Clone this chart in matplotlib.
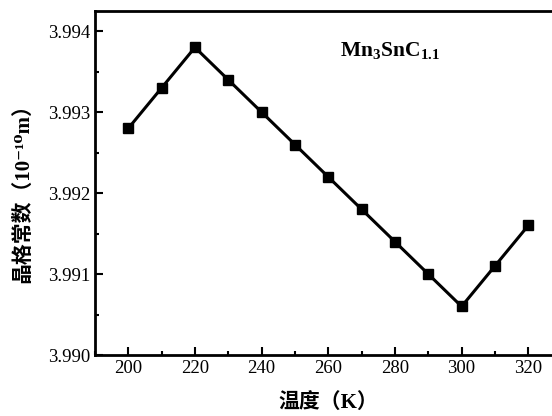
import matplotlib
matplotlib.use("Agg")
import matplotlib.pyplot as plt
from matplotlib.ticker import MultipleLocator

temps = [200, 210, 220, 230, 240, 250, 260, 270, 280, 290, 300, 310, 320]
lattice = [3.9928, 3.9933, 3.9938, 3.9934, 3.9930, 3.9926, 3.9922, 3.9918,
           3.9914, 3.9910, 3.9906, 3.9911, 3.9916]
xticks = [200, 220, 240, 260, 280, 300, 320]
yticks = [3.990, 3.991, 3.992, 3.993, 3.994]

plt.rcParams['font.family'] = ['Liberation Serif', 'Noto Sans CJK SC', 'DejaVu Serif']
plt.rcParams['mathtext.fontset'] = 'custom'
plt.rcParams['mathtext.rm'] = 'Liberation Serif:bold'
plt.rcParams['mathtext.bf'] = 'Liberation Serif:bold'
plt.rcParams['mathtext.it'] = 'Liberation Serif:bold'

fig = plt.figure(figsize=(5.52, 4.16), dpi=100)
ax = fig.add_axes([0.172, 0.1466, 0.8454, 0.827])
ax.plot(temps, lattice, color='black', lw=2.2, marker='s', ms=6.5)
ax.set_xlim(190, 330)
ax.set_ylim(3.990, 3.99425)
ax.set_xticks(xticks)
ax.set_yticks(yticks)
ax.set_yticklabels([f"{v:.3f}" for v in yticks])
ax.xaxis.set_minor_locator(MultipleLocator(10))
ax.yaxis.set_minor_locator(MultipleLocator(0.0005))
ax.tick_params(which='both', direction='in', width=1.5, labelsize=13.5, top=False, right=False)
ax.tick_params(which='major', length=6)
ax.tick_params(which='minor', length=3)
for s in ['left', 'bottom', 'top']:
    ax.spines[s].set_linewidth(2)
ax.spines['right'].set_visible(False)
ax.set_xlabel('温度（K）', fontsize=15, fontweight='bold', labelpad=12)
ax.set_ylabel('晶格常数（10⁻¹⁰m）', fontsize=15, fontweight='bold')
ax.yaxis.set_label_coords(-0.133, 0.485)
ax.text(0.525, 0.885, r'$\mathbf{Mn_3SnC_{1.1}}$', transform=ax.transAxes, fontsize=15.5,
        ha='left', va='center')
fig.savefig('out.png', dpi=100)
